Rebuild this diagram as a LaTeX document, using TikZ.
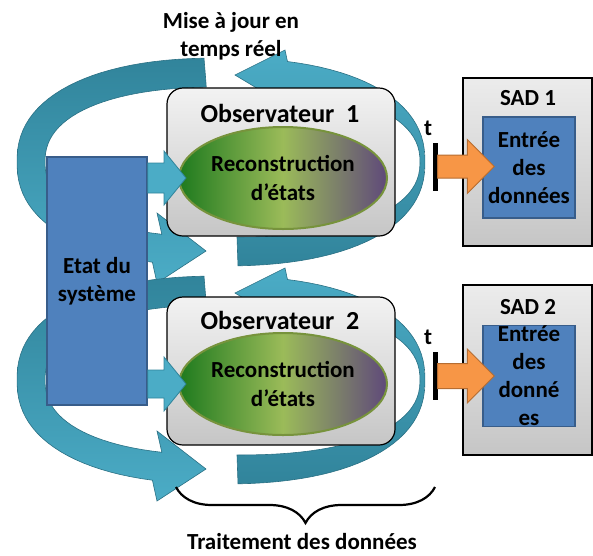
\documentclass[tikz,border=0pt]{standalone}
\usepackage{fontspec}
\setmainfont{Carlito}
\usepackage{tikz}
\usetikzlibrary{calc,positioning,shapes.geometric,decorations.pathreplacing}
\definecolor{etatbleu}{HTML}{4F81BD}
\definecolor{etatbord}{HTML}{385D8A}
\definecolor{turq}{HTML}{4BACC6}
\definecolor{turqfonce}{HTML}{31849B}
\definecolor{orangesad}{HTML}{F79646}
\definecolor{orangebord}{HTML}{B66D31}
\definecolor{vertfonce}{HTML}{1E7A1E}
\definecolor{vertclair}{HTML}{9BBB59}
\definecolor{prune}{HTML}{5F497A}
\definecolor{olivebord}{HTML}{77933C}
\newcommand{\gras}{\bfseries\fontsize{23}{28}\selectfont}
% fleche pleine : style, depart, pointe, demi-corps, demi-tete, longueur tete
\newcommand{\fatarrow}[6]{%
  \path[#1] let \p1=(#2), \p2=(#3) in
    (\x1,\y1+#4pt) -- (\x2-#6pt,\y1+#4pt) -- (\x2-#6pt,\y1+#5pt) -- (\x2,\y1)
    -- (\x2-#6pt,\y1-#5pt) -- (\x2-#6pt,\y1-#4pt) -- (\x1,\y1-#4pt) -- cycle;}
\tikzset{
  etat/.style={rectangle, draw=etatbord, fill=etatbleu, line width=1.5pt, minimum width=100pt, minimum height=248pt, align=center, font=\gras},
  obs/.style={rectangle, rounded corners=16pt, draw=black, line width=1.2pt, top color=gray!10, bottom color=gray!45, minimum width=228pt, minimum height=148pt},
  recon/.style={ellipse, draw=olivebord, line width=2pt, left color=vertfonce, right color=prune, middle color=vertclair, minimum width=208pt, minimum height=102pt, inner sep=0pt, align=center, font=\bfseries\fontsize{23}{29}\selectfont},
  sad/.style={rectangle, draw=black, line width=1.2pt, top color=gray!15, bottom color=gray!45, minimum width=129pt, minimum height=168pt},
  entree/.style={rectangle, draw=etatbord, fill=etatbleu, line width=1.5pt, minimum width=92pt, minimum height=101pt, inner sep=0pt, align=center, font=\gras},
  barre/.style={rectangle, fill=black, minimum width=5pt, minimum height=48pt, inner sep=0pt},
  lbl/.style={font=\gras, align=center, inner sep=1pt},
  titre/.style={font=\bfseries\fontsize{26}{31}\selectfont, inner sep=1pt},
  ruban/.style={draw=turqfonce!85!black, line width=0.6pt},
  fleche/.style={fill=turq, draw=turqfonce, line width=0.8pt},
  flecheor/.style={fill=orangesad, draw=orangebord, line width=1pt},
  accolade/.style={decorate, decoration={brace, mirror, amplitude=36pt}, line width=2.2pt},
}
\begin{document}
\begin{tikzpicture}[x=1pt, y=-1pt,
  declare function={ex(\x)=cos(\x)*pow(abs(cos(\x))+0.0001,-0.13);
                    ey(\x)=sin(\x)*pow(abs(sin(\x))+0.0001,-0.13);}]
\useasboundingbox (0,0) rectangle (593,555);

% rubans circulaires (mise a jour)
\foreach \cy in {162,380} {
  \begin{scope}[shift={(0,\cy)}]
    \path[ruban, top color=turqfonce, bottom color=turq]
      plot[domain=266.7:106.6, samples=50] ({221+204*ex(\x)},{104*ey(\x)})
      -- (157,121) -- (206,89) -- (157,51)
      -- plot[domain=106.6:266.7, samples=50] ({221+176*ex(\x)},{75*ey(\x)}) -- cycle;
    \path[ruban, top color=turq, bottom color=turqfonce]
      plot[domain=86.7:-74, samples=50] ({221+204*ex(\x)},{104*ey(\x)})
      -- (285,-112) -- (235,-87) -- (285,-57)
      -- plot[domain=-78:90, samples=50] ({237+183*ex(\x)},{75*ey(\x)}) -- cycle;
  \end{scope}
}

\node[lbl] (maj) at (231,36) {Mise à jour en\\temps réel};
\node[etat] (etat) at (97,281) {Etat du\\système};

\node[obs] (obs1) at (281,162) {};
\node[titre] (titre1) at (280,113) {Observateur~~1};
\node[recon] (rec1) at (283,178) {Reconstruction\\d’états};
\node[obs] (obs2) at (281,371) {};
\node[titre] (titre2) at (280,320) {Observateur~~2};
\node[recon] (rec2) at (283,384) {Reconstruction\\d’états};

\node[sad] (sad1) at (527.5,162) {};
\node[lbl] (sadt1) at (528,98) {SAD 1};
\node[entree] (entree1) at (529,167.5) {Entrée\\des\\données};
\node[sad, minimum height=170pt] (sad2) at (527.5,370) {};
\node[lbl] (sadt2) at (528,307) {SAD 2};
\node[entree] (entree2) at (529,376) {Entrée\\des\\donné\\es};

\node[barre] (barre1) at (435,166.5) {};
\node[lbl] (t1) at (428,128) {t};
\node[barre] (barre2) at (435,376) {};
\node[lbl] (t2) at (428,337) {t};

\fatarrow{fleche}{etat.east |- rec1.west}{[xshift=8pt]rec1.west}{15}{27}{22}
\fatarrow{fleche}{etat.east |- rec2.west}{[xshift=8pt]rec2.west}{14}{27}{22}
\fatarrow{flecheor}{barre1.east}{[xshift=12pt]entree1.west}{11.5}{27}{27}
\fatarrow{flecheor}{barre2.east}{[xshift=12pt]entree2.west}{12.5}{27}{27}

\coordinate (accG) at (176,487);
\coordinate (accD) at (435,487);
\draw[accolade] (accG) -- (accD);
\node[lbl] (traitement) at (302,542) {Traitement des données};
\end{tikzpicture}
\end{document}
